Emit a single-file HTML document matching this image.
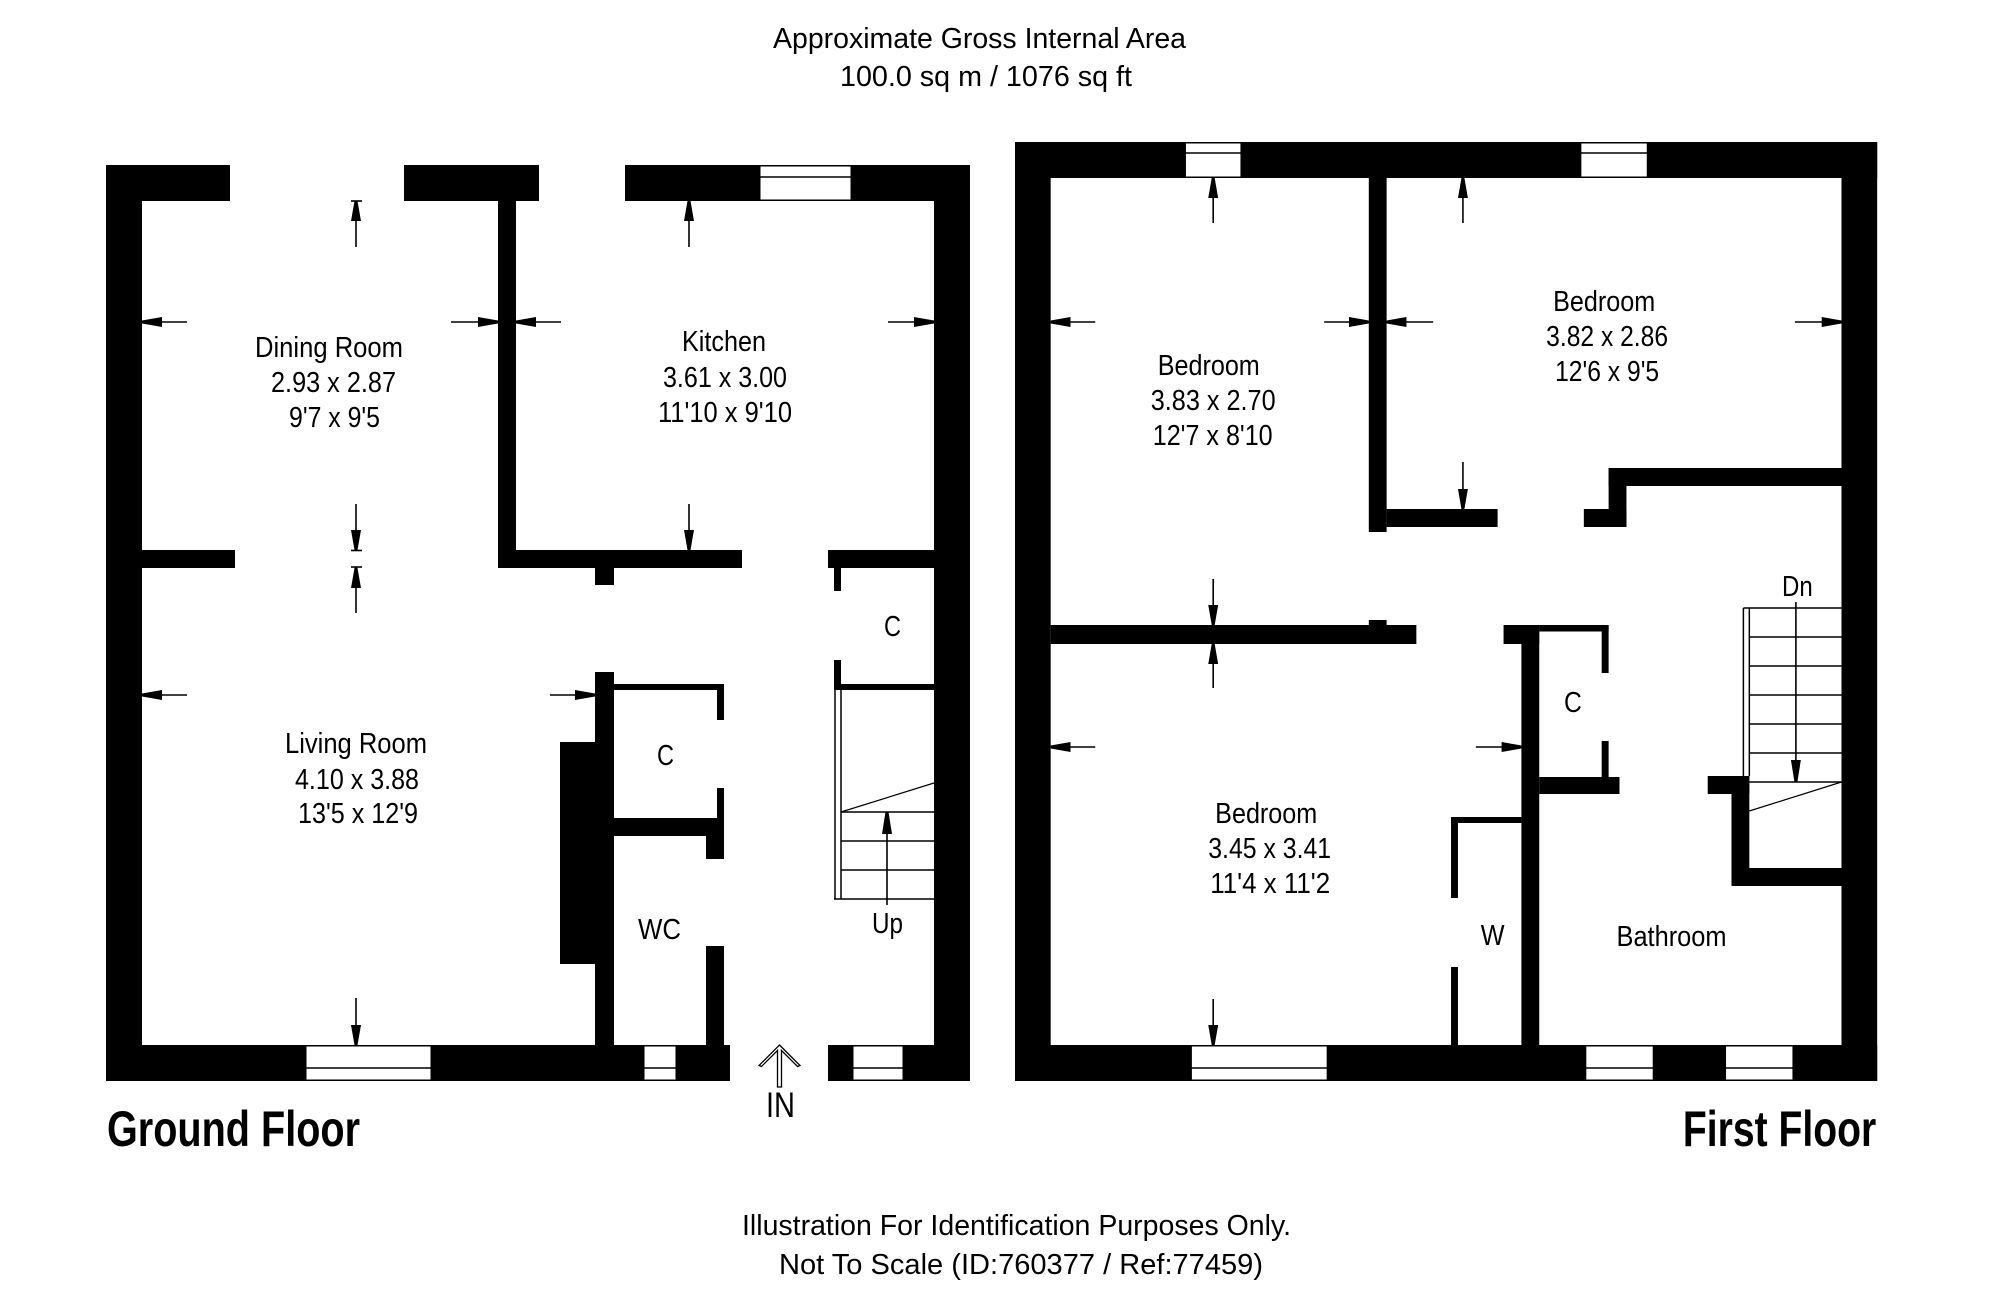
<!DOCTYPE html>
<html>
<head>
<meta charset="utf-8">
<style>
html,body{margin:0;padding:0;background:#fff;}
svg{display:block;}
text{font-family:"Liberation Sans",Arial,sans-serif;fill:#000;}
.r{font-size:28.5px;}
.t{font-size:28.6px;}
.b{font-size:50px;font-weight:bold;}
</style>
</head>
<body>
<svg width="2000" height="1301" viewBox="0 0 2000 1301" xmlns="http://www.w3.org/2000/svg">
<rect x="0" y="0" width="2000" height="1301" fill="#fff"/>

<!-- Titles -->
<text class="t" x="773" y="48" textLength="413" lengthAdjust="spacingAndGlyphs">Approximate Gross Internal Area</text>
<text class="t" x="840" y="86" textLength="292" lengthAdjust="spacingAndGlyphs">100.0 sq m / 1076 sq ft</text>
<text class="t" x="742" y="1235" textLength="549" lengthAdjust="spacingAndGlyphs">Illustration For Identification Purposes Only.</text>
<text class="t" x="779" y="1274" textLength="484" lengthAdjust="spacingAndGlyphs">Not To Scale (ID:760377 / Ref:77459)</text>

<!-- ============ GROUND FLOOR WALLS ============ -->
<g fill="#000">
<rect x="106" y="165" width="124" height="36"/>
<rect x="404" y="165" width="135" height="36"/>
<rect x="625" y="165" width="345" height="36"/>
<rect x="106" y="165" width="36" height="916"/>
<rect x="934" y="165" width="36" height="916"/>
<rect x="106" y="1045" width="624" height="36"/>
<rect x="828" y="1045" width="142" height="36"/>
<rect x="498" y="201" width="18" height="367"/>
<rect x="142" y="550" width="93" height="18"/>
<rect x="498" y="550" width="244" height="18"/>
<rect x="595" y="568" width="19" height="17"/>
<rect x="828" y="550" width="106" height="18"/>
<rect x="834" y="568" width="7" height="23"/>
<rect x="834" y="660" width="7" height="24"/>
<rect x="834" y="684" width="100" height="6"/>
<rect x="595" y="672" width="19" height="373"/>
<rect x="560" y="742" width="35" height="222"/>
<rect x="614" y="684" width="110" height="6"/>
<rect x="717" y="684" width="7" height="36"/>
<rect x="717" y="788" width="7" height="30"/>
<rect x="614" y="818" width="110" height="18"/>
<rect x="706" y="818" width="18" height="41"/>
<rect x="706" y="946" width="18" height="99"/>
</g>

<!-- Ground windows -->
<g fill="#fff" stroke="#000" stroke-width="1.5">
<rect x="759.75" y="165.75" width="91.5" height="34.5"/>
<line x1="759" y1="177" x2="852" y2="177"/>
<rect x="305.75" y="1045.75" width="125.5" height="34.5"/>
<line x1="305" y1="1068" x2="432" y2="1068"/>
<rect x="643.75" y="1045.75" width="32.5" height="34.5"/>
<line x1="643" y1="1068" x2="677" y2="1068"/>
<rect x="852.75" y="1045.75" width="50.5" height="34.5"/>
<line x1="852" y1="1068" x2="904" y2="1068"/>
</g>

<!-- Ground stairs -->
<g stroke="#000" stroke-width="1.5" fill="none">
<line x1="835" y1="690" x2="835" y2="899"/>
<line x1="841" y1="690" x2="841" y2="899"/>
<line x1="841" y1="812" x2="934" y2="812"/>
<line x1="841" y1="841" x2="934" y2="841"/>
<line x1="841" y1="870" x2="934" y2="870"/>
<line x1="834" y1="899" x2="934" y2="899"/>
<line x1="841" y1="812" x2="934" y2="783" stroke-width="1.2"/>
</g>

<!-- Ground arrows -->
<g stroke="#000" stroke-width="1.6">
<line x1="356" y1="201" x2="356" y2="247"/>
<line x1="351" y1="201" x2="362" y2="201"/>
<line x1="356" y1="504" x2="356" y2="550"/>
<line x1="351" y1="550.5" x2="362" y2="550.5"/>
<line x1="356" y1="567" x2="356" y2="613"/>
<line x1="351" y1="567" x2="362" y2="567"/>
<line x1="356" y1="998" x2="356" y2="1045"/>
<line x1="142" y1="322" x2="187" y2="322"/>
<line x1="451" y1="322" x2="498" y2="322"/>
<line x1="516" y1="322" x2="561" y2="322"/>
<line x1="888" y1="322" x2="934" y2="322"/>
<line x1="689" y1="201" x2="689" y2="247"/>
<line x1="689" y1="504" x2="689" y2="550"/>
<line x1="142" y1="695" x2="187" y2="695"/>
<line x1="550" y1="695" x2="595" y2="695"/>
<line x1="887" y1="812" x2="887" y2="905"/>
</g>
<g fill="#000">
<polygon points="354.5,201 357.5,201 361,221 351,221"/>
<polygon points="354.5,550 357.5,550 361,530 351,530"/>
<polygon points="354.5,568 357.5,568 361,588 351,588"/>
<polygon points="354.5,1045 357.5,1045 361,1025 351,1025"/>
<polygon points="142,320.5 142,323.5 162,327 162,317"/>
<polygon points="498,320.5 498,323.5 478,327 478,317"/>
<polygon points="516,320.5 516,323.5 536,327 536,317"/>
<polygon points="934,320.5 934,323.5 914,327 914,317"/>
<polygon points="687.5,201 690.5,201 694,221 684,221"/>
<polygon points="687.5,550 690.5,550 694,530 684,530"/>
<polygon points="142,693.5 142,696.5 162,700 162,690"/>
<polygon points="595,693.5 595,696.5 575,700 575,690"/>
<polygon points="885.5,812 888.5,812 892,834 882,834"/>
</g>

<!-- IN arrow -->
<polygon points="779.5,1045 800,1065.5 797.5,1066.5 781.5,1050.5 781.5,1087 777.5,1087 777.5,1050.5 761.5,1066.5 759,1065.5" fill="#fff" stroke="#000" stroke-width="1.3"/>

<!-- Ground labels -->
<text class="r" x="255" y="357" textLength="148" lengthAdjust="spacingAndGlyphs">Dining Room</text>
<text class="r" x="271" y="392" textLength="125" lengthAdjust="spacingAndGlyphs">2.93 x 2.87</text>
<text class="r" x="289" y="427" textLength="91" lengthAdjust="spacingAndGlyphs">9'7 x 9'5</text>
<text class="r" x="682" y="351" textLength="84" lengthAdjust="spacingAndGlyphs">Kitchen</text>
<text class="r" x="663" y="387" textLength="124" lengthAdjust="spacingAndGlyphs">3.61 x 3.00</text>
<text class="r" x="658" y="422" textLength="134" lengthAdjust="spacingAndGlyphs">11'10 x 9'10</text>
<text class="r" x="285" y="753" textLength="142" lengthAdjust="spacingAndGlyphs">Living Room</text>
<text class="r" x="295" y="789" textLength="124" lengthAdjust="spacingAndGlyphs">4.10 x 3.88</text>
<text class="r" x="298" y="823" textLength="120" lengthAdjust="spacingAndGlyphs">13'5 x 12'9</text>
<text class="r" x="884" y="636" textLength="17" lengthAdjust="spacingAndGlyphs">C</text>
<text class="r" x="657" y="765" textLength="17" lengthAdjust="spacingAndGlyphs">C</text>
<text class="r" x="638" y="939" textLength="43" lengthAdjust="spacingAndGlyphs">WC</text>
<text class="r" x="872" y="933" textLength="31" lengthAdjust="spacingAndGlyphs">Up</text>
<text x="766" y="1117" style="font-size:35px" textLength="29" lengthAdjust="spacingAndGlyphs">IN</text>
<text class="b" x="107" y="1146" textLength="253" lengthAdjust="spacingAndGlyphs">Ground Floor</text>

<!-- ============ FIRST FLOOR ============ -->
<g transform="matrix(0.991 0 0 1 9.135 0)">
<g fill="#000">
<rect x="1015" y="142" width="870" height="36"/>
<rect x="1015" y="142" width="36" height="939"/>
<rect x="1849" y="142" width="36" height="939"/>
<rect x="1015" y="1045" width="870" height="36"/>
<rect x="1372" y="178" width="18" height="354"/>
<rect x="1390" y="509" width="112" height="18"/>
<rect x="1589" y="509" width="43" height="18"/>
<rect x="1614" y="468" width="18" height="59"/>
<rect x="1614" y="468" width="235" height="18"/>
<rect x="1051" y="625" width="369" height="19"/>
<rect x="1372" y="620" width="18" height="5"/>
<rect x="1508" y="625" width="36" height="19"/>
<rect x="1544" y="625" width="70" height="6.5"/>
<rect x="1607" y="625" width="7" height="48"/>
<rect x="1607" y="741" width="7" height="36"/>
<rect x="1526" y="625" width="18" height="420"/>
<rect x="1544" y="777" width="81" height="17"/>
<rect x="1455" y="817" width="71" height="6"/>
<rect x="1455" y="817" width="7" height="81"/>
<rect x="1455" y="967" width="7" height="78"/>
<rect x="1714" y="776" width="42" height="18"/>
<rect x="1738" y="776" width="18" height="110"/>
<rect x="1738" y="868" width="111" height="18"/>
</g>

<!-- First windows -->
<g fill="#fff" stroke="#000" stroke-width="1.5">
<rect x="1186.75" y="142.75" width="56.5" height="34.5"/>
<line x1="1186" y1="153" x2="1244" y2="153"/>
<rect x="1585.75" y="142.75" width="67.5" height="34.5"/>
<line x1="1585" y1="153" x2="1654" y2="153"/>
<rect x="1192.75" y="1045.75" width="137.5" height="34.5"/>
<line x1="1192" y1="1068" x2="1331" y2="1068"/>
<rect x="1590.75" y="1045.75" width="68.5" height="34.5"/>
<line x1="1590" y1="1068" x2="1660" y2="1068"/>
<rect x="1731.75" y="1045.75" width="68.5" height="34.5"/>
<line x1="1731" y1="1068" x2="1801" y2="1068"/>
</g>

<!-- First stairs -->
<g stroke="#000" stroke-width="1.5" fill="none">
<line x1="1750" y1="608" x2="1750" y2="776"/>
<line x1="1756" y1="608" x2="1756" y2="776"/>
<line x1="1750" y1="608" x2="1849" y2="608"/>
<line x1="1756" y1="637" x2="1849" y2="637"/>
<line x1="1756" y1="666" x2="1849" y2="666"/>
<line x1="1756" y1="695" x2="1849" y2="695"/>
<line x1="1756" y1="724" x2="1849" y2="724"/>
<line x1="1756" y1="753" x2="1849" y2="753"/>
<line x1="1756" y1="782" x2="1849" y2="782"/>
<line x1="1756" y1="811" x2="1849" y2="782" stroke-width="1.2"/>
</g>

<!-- First arrows -->
<g stroke="#000" stroke-width="1.6">
<line x1="1215" y1="178" x2="1215" y2="223"/>
<line x1="1051" y1="322" x2="1096" y2="322"/>
<line x1="1327" y1="322" x2="1372" y2="322"/>
<line x1="1390" y1="322" x2="1437" y2="322"/>
<line x1="1802" y1="322" x2="1849" y2="322"/>
<line x1="1467" y1="178" x2="1467" y2="223"/>
<line x1="1467" y1="462" x2="1467" y2="509"/>
<line x1="1215" y1="579" x2="1215" y2="625"/>
<line x1="1215" y1="644" x2="1215" y2="688"/>
<line x1="1215" y1="999" x2="1215" y2="1045"/>
<line x1="1051" y1="747" x2="1096" y2="747"/>
<line x1="1480" y1="747" x2="1526" y2="747"/>
<line x1="1803" y1="602" x2="1803" y2="782"/>
</g>
<g fill="#000">
<polygon points="1213.5,178 1216.5,178 1220,198 1210,198"/>
<polygon points="1051,320.5 1051,323.5 1071,327 1071,317"/>
<polygon points="1372,320.5 1372,323.5 1352,327 1352,317"/>
<polygon points="1390,320.5 1390,323.5 1410,327 1410,317"/>
<polygon points="1849,320.5 1849,323.5 1829,327 1829,317"/>
<polygon points="1465.5,178 1468.5,178 1472,198 1462,198"/>
<polygon points="1465.5,509 1468.5,509 1472,489 1462,489"/>
<polygon points="1213.5,625 1216.5,625 1220,605 1210,605"/>
<polygon points="1213.5,644 1216.5,644 1220,664 1210,664"/>
<polygon points="1213.5,1045 1216.5,1045 1220,1025 1210,1025"/>
<polygon points="1051,745.5 1051,748.5 1071,752 1071,742"/>
<polygon points="1526,745.5 1526,748.5 1506,752 1506,742"/>
<polygon points="1801.5,782 1804.5,782 1808,760 1798,760"/>
</g>

<!-- First labels -->
<text class="r" x="1159" y="375" textLength="103" lengthAdjust="spacingAndGlyphs">Bedroom</text>
<text class="r" x="1152" y="410" textLength="126" lengthAdjust="spacingAndGlyphs">3.83 x 2.70</text>
<text class="r" x="1154" y="445" textLength="121" lengthAdjust="spacingAndGlyphs">12'7 x 8'10</text>
<text class="r" x="1558" y="311" textLength="103" lengthAdjust="spacingAndGlyphs">Bedroom</text>
<text class="r" x="1551" y="346" textLength="123" lengthAdjust="spacingAndGlyphs">3.82 x 2.86</text>
<text class="r" x="1560" y="381" textLength="105" lengthAdjust="spacingAndGlyphs">12'6 x 9'5</text>
<text class="r" x="1217" y="823" textLength="103" lengthAdjust="spacingAndGlyphs">Bedroom</text>
<text class="r" x="1210" y="858" textLength="124" lengthAdjust="spacingAndGlyphs">3.45 x 3.41</text>
<text class="r" x="1212" y="893" textLength="121" lengthAdjust="spacingAndGlyphs">11'4 x 11'2</text>
<text class="r" x="1569" y="712" textLength="18" lengthAdjust="spacingAndGlyphs">C</text>
<text class="r" x="1485" y="945" textLength="24" lengthAdjust="spacingAndGlyphs">W</text>
<text class="r" x="1622" y="946" textLength="111" lengthAdjust="spacingAndGlyphs">Bathroom</text>
<text class="r" x="1789" y="596" textLength="31" lengthAdjust="spacingAndGlyphs">Dn</text>
<text class="b" x="1689" y="1146" textLength="195" lengthAdjust="spacingAndGlyphs">First Floor</text>
</g>
</svg>
</body>
</html>
